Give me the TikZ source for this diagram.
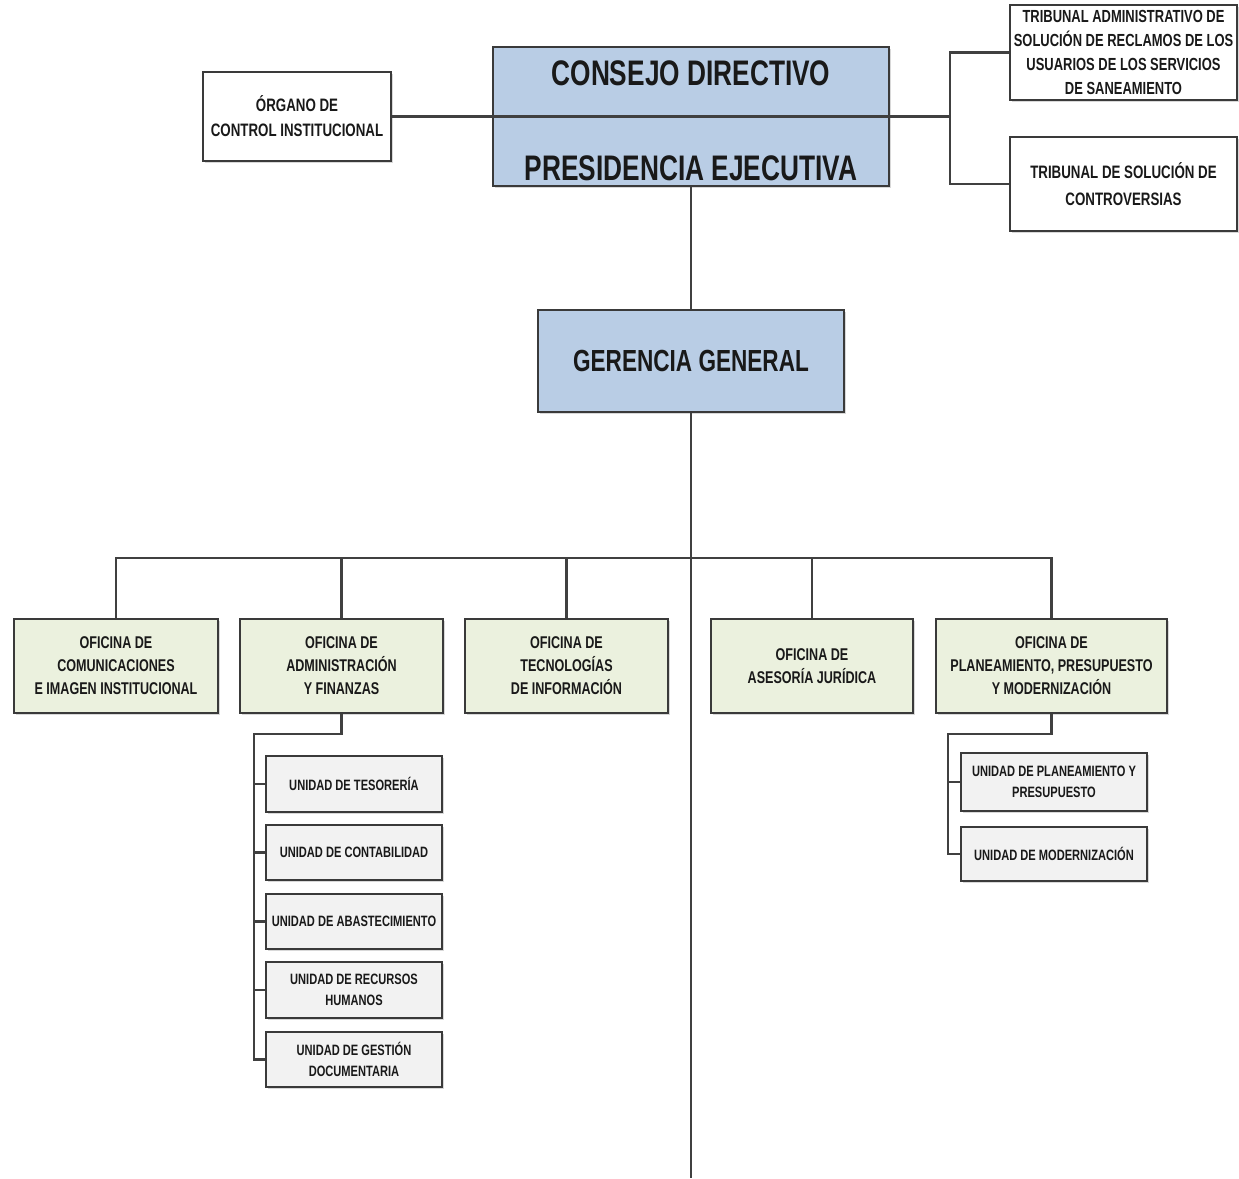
\documentclass[tikz,border=0pt]{standalone}
\usepackage{fontspec}
\setmainfont{Liberation Sans}
\newfontfamily\nar[FakeStretch=0.74]{Liberation Sans}
\usetikzlibrary{shadows}
\definecolor{bluefill}{HTML}{B9CDE5}
\definecolor{greenfill}{HTML}{EBF1DE}
\definecolor{greyfill}{HTML}{F2F2F2}
\definecolor{edge}{HTML}{3A3A3A}
\begin{document}
\begin{tikzpicture}[x=1pt,y=-1pt,
  box/.style={draw=edge,line width=2.4pt,rectangle,inner sep=0pt,align=center,text=black!90,
    drop shadow={shadow xshift=1.5pt,shadow yshift=-1.5pt,opacity=0.3}},
  bluebox/.style={box,fill=bluefill},
  greenbox/.style={box,fill=greenfill,minimum height=94pt,font=\nar\bfseries\fontsize{17}{23}\selectfont},
  greybox/.style={box,fill=greyfill,minimum width=176pt,font=\nar\bfseries\fontsize{15}{21}\selectfont},
  whitebox/.style={box,fill=white},
  title/.style={inner sep=0pt,font=\nar\bfseries\fontsize{35.5}{40}\selectfont,text=black!90},
  conn/.style={draw=black!75,line width=2.4pt}
]
\useasboundingbox[fill=white] (0,0) rectangle (1239,1178);

% top level
\node[bluebox,minimum width=396pt,minimum height=139pt] (cd) at (691,116.5) {};
\node[title] (cdt) at (691,73) {CONSEJO DIRECTIVO};
\node[title] (pet) at (691,168) {PRESIDENCIA EJECUTIVA};

\node[whitebox,minimum width=188pt,minimum height=89pt,font=\nar\bfseries\fontsize{18}{25}\selectfont] (org) at (297,116.5) {ÓRGANO DE\\CONTROL INSTITUCIONAL};

\node[whitebox,minimum width=227pt,minimum height=95pt,font=\nar\bfseries\fontsize{17.5}{23.7}\selectfont] (ta) at (1123.5,52.5)
  {TRIBUNAL ADMINISTRATIVO DE\\SOLUCIÓN DE RECLAMOS DE LOS\\USUARIOS DE LOS SERVICIOS\\DE SANEAMIENTO};
\node[whitebox,minimum width=227pt,minimum height=94pt,font=\nar\bfseries\fontsize{18}{27}\selectfont] (ts) at (1123.5,184)
  {TRIBUNAL DE SOLUCIÓN DE\\CONTROVERSIAS};

\node[bluebox,minimum width=306pt,minimum height=102pt,font=\nar\bfseries\fontsize{30.5}{36}\selectfont] (gg) at (691,361) {GERENCIA GENERAL};

% second level
\node[greenbox,minimum width=204pt] (o1) at (116,666) {OFICINA DE\\COMUNICACIONES\\E IMAGEN INSTITUCIONAL};
\node[greenbox,minimum width=203pt] (o2) at (341.5,666) {OFICINA DE\\ADMINISTRACIÓN\\Y FINANZAS};
\node[greenbox,minimum width=203pt] (o3) at (566.5,666) {OFICINA DE\\TECNOLOGÍAS\\DE INFORMACIÓN};
\node[greenbox,minimum width=202pt] (o4) at (812,666) {OFICINA DE\\ASESORÍA JURÍDICA};
\node[greenbox,minimum width=231pt] (o5) at (1051.5,666) {OFICINA DE\\PLANEAMIENTO, PRESUPUESTO\\Y MODERNIZACIÓN};

% units
\node[greybox,minimum height=56pt] (u1) at (354,784) {UNIDAD DE TESORERÍA};
\node[greybox,minimum height=55pt] (u2) at (354,852.5) {UNIDAD DE CONTABILIDAD};
\node[greybox,minimum height=55pt] (u3) at (354,921.5) {UNIDAD DE ABASTECIMIENTO};
\node[greybox,minimum height=56pt] (u4) at (354,990) {UNIDAD DE RECURSOS\\HUMANOS};
\node[greybox,minimum height=55pt] (u5) at (354,1059.5) {UNIDAD DE GESTIÓN\\DOCUMENTARIA};

\node[greybox,minimum width=186pt,minimum height=58pt] (v1) at (1054,782) {UNIDAD DE PLANEAMIENTO Y\\PRESUPUESTO};
\node[greybox,minimum width=186pt,minimum height=54pt] (v2) at (1054,854) {UNIDAD DE MODERNIZACIÓN};

% connectors
\coordinate (rj) at (950,116.5);
\draw[conn] (org.east) -- (rj);
\draw[conn] (ta.west) -- (ta.west -| rj) -- (ts.west -| rj) -- (ts.west);
\draw[conn] (cd.south) -- (gg.north);
\coordinate (bot) at (691,1178);
\draw[conn] (gg.south) -- (bot);

\coordinate (bus) at (116,558);
\draw[conn] (o1.north) -- (o1.north |- bus) -- (o5.north |- bus) -- (o5.north);
\foreach \o in {o2,o3,o4} \draw[conn] (\o.north) -- (\o.north |- bus);

\coordinate (a1) at (254,734);
\draw[conn] (o2.south) -- (o2.south |- a1) -- (a1) -- (a1 |- u5.west) -- (u5.west);
\foreach \u in {u1,u2,u3,u4} \draw[conn] (a1 |- \u.west) -- (\u.west);

\coordinate (p1) at (948,734);
\draw[conn] (o5.south) -- (o5.south |- p1) -- (p1) -- (p1 |- v2.west) -- (v2.west);
\draw[conn] (p1 |- v1.west) -- (v1.west);
\end{tikzpicture}
\end{document}
